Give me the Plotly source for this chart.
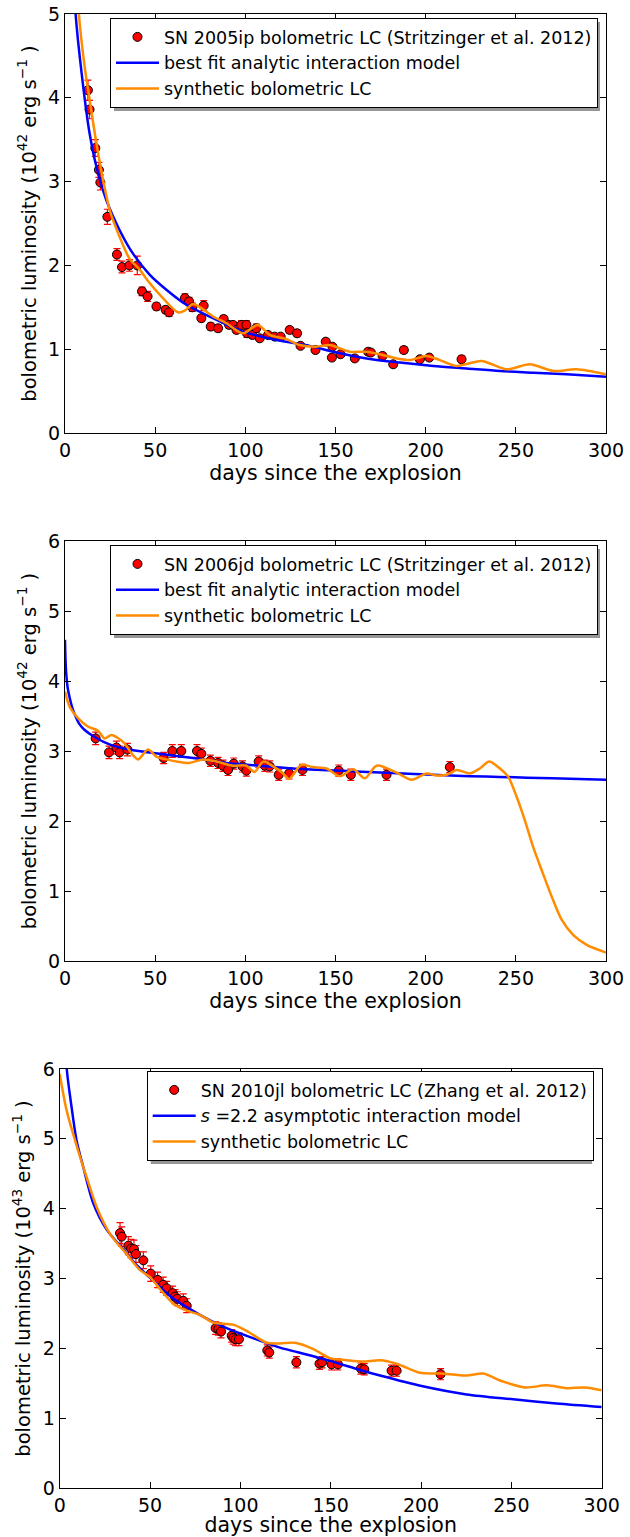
import plotly.graph_objects as go

# ---------------- SN 2005ip ----------------
ip_days = [12.7, 13.6, 16.8, 18.8, 19.6, 23.5, 28.8, 31.6, 35.7, 40.1, 42.7, 45.8,
           50.7, 55.8, 57.7, 66.5, 68.8, 70.6, 75.6, 76.9, 80.8, 84.9, 88.0, 91.0,
           93.2, 95.1, 97.8, 100.6, 100.9, 103.9, 106.1, 108.0, 112.6, 116.3, 119.6,
           124.6, 128.7, 130.6, 138.9, 144.6, 148.3, 148.0, 152.8, 160.7, 168.1,
           169.6, 176.1, 182.0, 187.9, 196.8, 202.0, 219.9]
ip_lum = [4.09, 3.86, 3.40, 3.14, 2.99, 2.58, 2.13, 1.98, 2.00, 2.00, 1.69, 1.63,
          1.51, 1.47, 1.44, 1.61, 1.57, 1.50, 1.37, 1.52, 1.27, 1.25, 1.36, 1.29,
          1.29, 1.23, 1.29, 1.29, 1.19, 1.17, 1.25, 1.13, 1.17, 1.15, 1.15,
          1.23, 1.19, 1.04, 0.99, 1.09, 1.03, 0.90, 0.94, 0.89, 0.97,
          0.96, 0.92, 0.82, 0.99, 0.88, 0.90, 0.88]
ip_err = [0.12, 0.11, 0.10, 0.09, 0.09, 0.09, 0.07, 0.07, 0.07, 0.11, 0.05, 0.06,
          0.04, 0.04, 0.05, 0.05, 0.05, 0.05, 0.04, 0.06, 0.04, 0.04, 0.04, 0.04,
          0.04, 0.04, 0.05, 0.05, 0.05, 0.04, 0.05, 0.03, 0.03, 0.03, 0.03,
          0.04, 0.04, 0.03, 0.03, 0.03, 0.03, 0.03, 0.03, 0.03, 0.03,
          0.03, 0.03, 0.03, 0.04, 0.03, 0.03, 0.04]

ip_model_days = [4.5, 5.9, 9.9, 13.6, 17.4, 22.9, 30.3, 37.7, 46.9, 56.2, 67.3, 80.2,
                 98.7, 117.3, 135.7, 148.7, 167.2, 185.7, 204.2, 222.7, 241.2,
                 259.7, 278.2, 300.0]
ip_model_lum = [5.9, 5.0, 4.17, 3.58, 3.18, 2.78, 2.42, 2.14, 1.89, 1.71, 1.53, 1.39,
                1.21, 1.11, 1.04, 0.97, 0.89, 0.84, 0.80, 0.77, 0.74,
                0.72, 0.70, 0.67]

ip_synth_days = [6.0, 7.7, 10.9, 13.7, 17.4, 21.1, 24.8, 30.3, 35.8, 41.4, 46.9,
                 54.3, 62.6, 66.4, 71.0, 75.6, 82.1, 89.5, 98.7, 107.0, 113.5,
                 122.8, 130.2, 139.4, 146.8, 157.9, 167.2, 174.6, 183.8, 191.2,
                 200.5, 207.9, 217.1, 231.0, 244.9, 257.8, 270.8, 283.7, 300.0]
ip_synth_lum = [5.9, 5.0, 4.37, 3.97, 3.46, 3.02, 2.66, 2.34, 2.08, 1.95, 1.79,
                1.61, 1.44, 1.46, 1.54, 1.49, 1.39, 1.31, 1.19, 1.29, 1.17,
                1.12, 1.05, 1.03, 1.05, 0.97, 0.97, 0.94, 0.89, 0.87,
                0.92, 0.87, 0.80, 0.86, 0.76, 0.82, 0.74, 0.76, 0.70]

# ---------------- SN 2006jd ----------------
jd_days = [17.0, 24.4, 28.5, 30.3, 34.6, 54.7, 59.5, 64.5, 73.2, 75.6, 80.6, 84.9,
           87.6, 90.4, 93.6, 98.4, 100.6, 107.4, 110.8, 113.5, 118.5, 124.3, 131.7,
           151.8, 158.5, 178.3, 213.4]
jd_lum = [3.18, 2.98, 3.05, 2.98, 3.02, 2.90, 3.00, 3.00, 3.00, 2.96, 2.86, 2.83,
          2.79, 2.73, 2.82, 2.78, 2.72, 2.85, 2.79, 2.78, 2.66, 2.68, 2.73,
          2.72, 2.66, 2.66, 2.77]
jd_err = [0.09, 0.09, 0.09, 0.09, 0.09, 0.08, 0.09, 0.09, 0.09, 0.08, 0.08, 0.08,
          0.08, 0.08, 0.08, 0.08, 0.08, 0.08, 0.08, 0.08, 0.08, 0.08, 0.08,
          0.08, 0.08, 0.08, 0.08]

jd_model_days = [0.0, 0.3, 0.7, 1.5, 2.6, 4.0, 5.3, 8.1, 10.9, 16.4, 25.0, 34.0, 52.5,
                 71.0, 89.5, 108.0, 126.5, 150.6, 178.0, 204.0, 224.5, 241.0, 270.0,
                 300.0]
jd_model_lum = [4.59, 4.30, 4.10, 3.90, 3.76, 3.62, 3.53, 3.38, 3.30, 3.20, 3.09, 3.03,
                2.96, 2.90, 2.83, 2.79, 2.75, 2.72, 2.69, 2.66, 2.64, 2.63, 2.61,
                2.59]

jd_synth_days = [0.0, 2.6, 7.2, 12.7, 18.3, 22.0, 25.7, 28.5, 33.0, 36.8, 40.5, 46.0,
                 50.7, 56.2, 61.8, 69.0, 76.5, 84.0, 93.0, 100.6, 105.0, 110.0,
                 115.4, 120.0, 124.3, 126.5, 131.0, 137.6, 145.0, 152.4, 159.8,
                 166.3, 172.8, 183.9, 192.2, 200.5, 206.0, 211.6, 217.2, 224.5,
                 230.0, 235.2, 241.2, 245.8, 250.4, 255.0, 259.6, 264.3, 269.9,
                 275.4, 281.9, 289.3, 300.0]
jd_synth_lum = [3.85, 3.63, 3.47, 3.35, 3.29, 3.18, 3.23, 3.20, 3.11, 2.97, 2.88, 3.02,
                2.92, 2.88, 2.85, 2.83, 2.88, 2.85, 2.79, 2.79, 2.70, 2.85,
                2.78, 2.70, 2.60, 2.66, 2.80, 2.77, 2.75, 2.64, 2.74,
                2.61, 2.79, 2.69, 2.59, 2.68, 2.65, 2.66, 2.73, 2.68,
                2.75, 2.85, 2.75, 2.63, 2.35, 2.01, 1.63, 1.30, 0.92,
                0.59, 0.37, 0.23, 0.12]

# ---------------- SN 2010jl ----------------
jl_days = [33.4, 34.3, 38.0, 39.5, 41.1, 42.2, 46.3, 50.4, 54.2, 57.3, 59.2, 62.5,
           63.8, 65.1, 68.4, 70.3, 86.3, 87.8, 89.3, 95.2, 96.1, 97.4, 99.2,
           114.9, 116.0, 131.0, 143.8, 145.2, 150.5, 154.0, 166.7, 168.6,
           183.7, 186.5, 210.8]
jl_lum = [3.65, 3.60, 3.47, 3.43, 3.42, 3.35, 3.26, 3.07, 2.98, 2.91, 2.86, 2.79,
          2.74, 2.71, 2.68, 2.61, 2.29, 2.28, 2.24, 2.18, 2.15, 2.13, 2.13,
          1.97, 1.94, 1.80, 1.78, 1.80, 1.77, 1.77, 1.71, 1.70,
          1.68, 1.68, 1.63]
jl_err = [0.15, 0.14, 0.13, 0.13, 0.13, 0.12, 0.12, 0.11, 0.11, 0.11, 0.10, 0.10,
          0.10, 0.10, 0.10, 0.10, 0.09, 0.09, 0.09, 0.09, 0.09, 0.09, 0.09,
          0.08, 0.08, 0.08, 0.08, 0.08, 0.08, 0.08, 0.08, 0.08,
          0.08, 0.08, 0.08]

jl_model_days = [2.5, 3.9, 6.6, 9.4, 13.1, 18.7, 26.0, 33.4, 42.6, 51.8, 61.0, 70.3,
                 83.2, 92.4, 110.8, 121.9, 129.3, 149.6, 166.2, 177.3, 200.3,
                 225.2, 251.0, 275.0, 300.0]
jl_model_lum = [6.8, 6.0, 5.45, 4.97, 4.59, 4.07, 3.70, 3.47, 3.19, 2.97, 2.75, 2.59,
                2.40, 2.29, 2.11, 2.01, 1.96, 1.82, 1.69, 1.61, 1.46,
                1.34, 1.27, 1.21, 1.16]

jl_synth_days = [0.0, 3.9, 9.4, 14.9, 20.5, 27.8, 37.0, 44.5, 50.0, 55.5, 62.9,
                 70.3, 77.6, 85.0, 96.0, 103.5, 114.6, 121.9, 130.2, 140.4, 149.6,
                 158.8, 168.0, 177.3, 186.5, 199.4, 210.5, 225.2, 234.5, 243.7,
                 257.6, 269.6, 280.6, 290.7, 300.0]
jl_synth_lum = [5.93, 5.40, 4.90, 4.45, 4.02, 3.64, 3.35, 3.12, 3.02, 2.85, 2.64,
                2.54, 2.48, 2.37, 2.34, 2.25, 2.08, 2.07, 2.08, 1.99, 1.86,
                1.83, 1.81, 1.83, 1.78, 1.65, 1.64, 1.61, 1.64, 1.54,
                1.44, 1.47, 1.43, 1.44, 1.40]

x_ticks = [0, 50, 100, 150, 200, 250, 300]

W, H = 630, 1537
FONT = "DejaVu Sans, Verdana, sans-serif"
BLUE = "#0000ff"
ORANGE = "#ff8c00"

# panel frames in pixels: (left, right, top, bottom)
frames = [(65, 606, 14, 433), (65, 606, 541, 961), (59.7, 601.7, 1069, 1488)]
y_max = [5, 6, 6]
y_units = ["42", "42", "43"]
# legend top-left corners in pixels
legend_pos = [(110, 18), (110, 545), (146.7, 1071)]

panels = [
    (ip_days, ip_lum, ip_err, ip_model_days, ip_model_lum, ip_synth_days, ip_synth_lum,
     "SN 2005ip bolometric LC (Stritzinger et al. 2012)",
     "best fit analytic interaction model"),
    (jd_days, jd_lum, jd_err, jd_model_days, jd_model_lum, jd_synth_days, jd_synth_lum,
     "SN 2006jd bolometric LC (Stritzinger et al. 2012)",
     "best fit analytic interaction model"),
    (jl_days, jl_lum, jl_err, jl_model_days, jl_model_lum, jl_synth_days, jl_synth_lum,
     "SN 2010jl bolometric LC (Zhang et al. 2012)",
     "<i>s</i> =2.2 asymptotic interaction model"),
]

fig = go.Figure()
layout = dict(
    template="none",
    width=W, height=H,
    margin=dict(l=0, r=0, t=0, b=0, autoexpand=False),
    paper_bgcolor="white", plot_bgcolor="white",
    font=dict(family=FONT, size=19, color="black"),
    showlegend=True,
)

for i, (dd, ll, ee, md, ml, sd, sl, data_name, model_name) in enumerate(panels):
    n = "" if i == 0 else str(i + 1)
    xa, ya, lg = "x" + n, "y" + n, "legend" + n
    left, right, top, bottom = frames[i]

    fig.add_trace(go.Scatter(
        x=dd, y=ll, mode="markers", name=data_name, xaxis=xa, yaxis=ya, legend=lg,
        marker=dict(color="red", size=9, line=dict(color="black", width=1)),
        error_y=dict(type="data", array=ee, color="red", thickness=1.2, width=3.5),
    ))
    fig.add_trace(go.Scatter(
        x=md, y=ml, mode="lines", name=model_name, xaxis=xa, yaxis=ya, legend=lg,
        line=dict(color=BLUE, width=2.5, shape="spline", smoothing=0.8),
    ))
    fig.add_trace(go.Scatter(
        x=sd, y=sl, mode="lines", name="synthetic bolometric LC", xaxis=xa, yaxis=ya,
        legend=lg, line=dict(color=ORANGE, width=2.5, shape="spline", smoothing=0.8),
    ))

    axis_common = dict(
        showline=True, linecolor="black", linewidth=1.2, mirror="allticks",
        ticks="inside", ticklen=6, tickwidth=1, tickcolor="black",
        showgrid=False, zeroline=False, automargin=False, tickfont=dict(size=19),
    )
    layout["xaxis" + n] = dict(
        axis_common, domain=[left / W, right / W], anchor=ya, range=[0, 300],
        tickvals=x_ticks, ticktext=[str(v) for v in x_ticks],
        title=dict(text="days since the explosion", standoff=0, font=dict(size=20.5)),
    )
    layout["yaxis" + n] = dict(
        axis_common, domain=[1 - bottom / H, 1 - top / H], anchor=xa,
        range=[0, y_max[i]], dtick=1,
        title=dict(
            text="bolometric luminosity (10<sup>%s</sup> erg s<sup>\u22121</sup> )" % y_units[i],
            standoff=6, font=dict(size=19.5)),
    )
    lx, ly = legend_pos[i]
    layout[lg] = dict(
        x=lx / W, y=1 - ly / H, xanchor="left", yanchor="top",
        bgcolor="white", bordercolor="black", borderwidth=1,
        font=dict(size=17.5, family=FONT), itemwidth=43, tracegroupgap=0,
    )

# drop shadows behind the legend boxes (left, right, top, bottom in pixels)
shadow_boxes = [(110, 596, 18, 107), (110, 596, 545, 634), (146.7, 588, 1071, 1160)]
shapes = []
for (x0, x1, y0, y1) in shadow_boxes:
    shapes.append(dict(
        type="rect", xref="paper", yref="paper",
        x0=(x0 + 4) / W, x1=(x1 + 4) / W, y0=1 - (y1 + 4) / H, y1=1 - (y0 + 4) / H,
        fillcolor="rgba(80,80,80,0.6)", line=dict(width=0), layer="above",
    ))
layout["shapes"] = shapes

fig.update_layout(**layout)
fig.write_html("out.html")
